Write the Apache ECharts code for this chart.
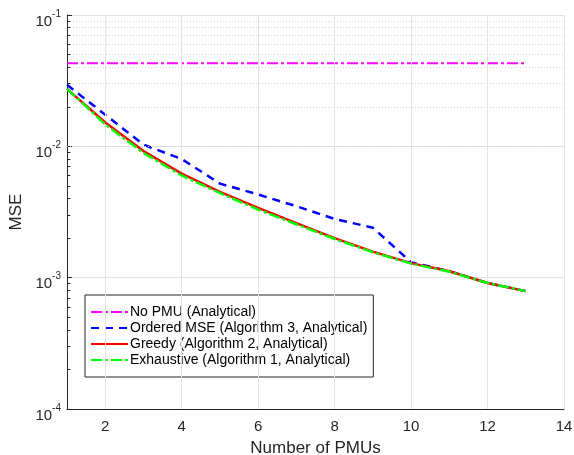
<!DOCTYPE html>
<html><head><meta charset="utf-8">
<script src="https://cdn.jsdelivr.net/npm/echarts@6/dist/echarts.min.js"></script>
<style>html,body{margin:0;padding:0;background:#fff}#c{width:574px;height:455px}</style>
</head><body><div id="c"></div>
<script>
const xValues = [1,2,3,4,5,6,7,8,9,10,11,12,13];
const noPmu     = [0.043,0.043,0.043,0.043,0.043,0.043,0.043,0.043,0.043,0.043,0.043,0.043,0.043];
const orderedMse = [0.0294,0.0174,0.0103,0.0080,0.0052,0.0043,0.0035,0.0028,0.0024,0.00131,0.00112,0.00091,0.00079];
const greedy     = [0.0274,0.0152,0.0092,0.0062,0.0045,0.0034,0.0026,0.0020,0.00158,0.00129,0.00112,0.00091,0.00079];
const exhaustive = [0.0274,0.0147,0.0089,0.0060,0.0044,0.0033,0.00255,0.00197,0.00156,0.00128,0.00111,0.00091,0.00079];
const seriesNames = ['No PMU (Analytical)','Ordered MSE (Algorithm 3, Analytical)','Greedy (Algorithm 2, Analytical)','Exhaustive (Algorithm 1, Analytical)'];
const xTicks = [2,4,6,8,10,12,14];
const yMinor = [2e-4,3e-4,4e-4,5e-4,6e-4,7e-4,8e-4,9e-4,2e-3,3e-3,4e-3,5e-3,6e-3,7e-3,8e-3,9e-3,2e-2,3e-2,4e-2,5e-2,6e-2,7e-2,8e-2,9e-2];

const pair = arr => xValues.map((x,i)=>[x,arr[i]]);
const axisColor = '#262626';
const font = 'Liberation Sans, Arial, sans-serif';

const chart = echarts.init(document.getElementById('c'), null, {renderer:'canvas'});
chart.setOption({
  animation:false,
  backgroundColor:'#fff',
  grid:{left:67,right:10,top:15,bottom:46,containLabel:false,outerBoundsMode:'none'},
  legend:{
    orient:'vertical', left:85, top:295,
    data:seriesNames,
    backgroundColor:'#fff', borderColor:axisColor, borderWidth:1,
    padding:[10,6,10,5], itemGap:2, itemWidth:37, itemHeight:14,
    itemStyle:{color:'rgba(0,0,0,0)',borderWidth:0,opacity:0},
    textStyle:{fontFamily:font,fontSize:14,color:'#000',padding:[0,0,0,-3]},
    selectedMode:false
  },
  xAxis:{
    type:'value', min:1, max:14,
    name:'Number of PMUs', nameLocation:'middle', nameGap:31,
    nameTextStyle:{fontFamily:font,fontSize:17,color:axisColor},
    axisLine:{show:true,onZero:false,lineStyle:{color:axisColor,width:1}},
    axisTick:{show:true,inside:true,length:5,customValues:xTicks,lineStyle:{color:axisColor}},
    axisLabel:{customValues:xTicks,fontFamily:font,fontSize:15,color:axisColor,margin:10},
    splitLine:{show:false}
  },
  yAxis:{
    type:'log', logBase:10, min:1e-4, max:1e-1,
    name:'MSE', nameLocation:'middle', nameGap:39,
    nameTextStyle:{fontFamily:font,fontSize:17,color:axisColor},
    axisLine:{show:true,lineStyle:{color:axisColor,width:1}},
    axisTick:{show:true,inside:true,length:5,lineStyle:{color:axisColor}},
    minorTick:{show:false},
    axisLabel:{
      fontFamily:font,color:axisColor,margin:6,padding:[8,0,0,0],
      formatter:v=>'{b|10}{s|'+Math.round(Math.log10(v))+'}',
      rich:{b:{fontFamily:font,fontSize:15,color:axisColor,verticalAlign:'bottom',lineHeight:20},
            s:{fontFamily:font,fontSize:10,color:axisColor,verticalAlign:'top',lineHeight:11}}
    },
    splitLine:{show:true,lineStyle:{color:'#e3e3e3',width:1}}
  },
  series:[
    {type:'line',name:'_grid',z:1,silent:true,symbol:'none',data:[[1,1e-4]],lineStyle:{opacity:0},
     markLine:{silent:true,symbol:'none',label:{show:false},animation:false,
       data:[
         ...yMinor.map(v=>({yAxis:v,lineStyle:{color:'#d2d2d2',width:1,type:[1,2]}})),
         ...xTicks.map(v=>({xAxis:v,lineStyle:{color:'#e3e3e3',width:1,type:'solid'}})),
         ...yMinor.map(v=>[{coord:[1,v],lineStyle:{color:axisColor,width:1,type:'solid'}},{coord:[1.09,v]}])
       ]}},
    {type:'line',name:seriesNames[0],z:3,symbol:'none',data:pair(noPmu),
     lineStyle:{color:'#ff00ff',width:2,type:[11,3,3,3]},itemStyle:{color:'#ff00ff'}},
    {type:'line',name:seriesNames[1],z:4,symbol:'none',data:pair(orderedMse),
     lineStyle:{color:'#0000ff',width:2.5,type:[8,6]},itemStyle:{color:'#0000ff'}},
    {type:'line',name:seriesNames[2],z:5,symbol:'none',data:pair(greedy),
     lineStyle:{color:'#ff0000',width:2.5,type:'solid'},itemStyle:{color:'#ff0000'}},
    {type:'line',name:seriesNames[3],z:6,symbol:'none',data:pair(exhaustive),
     lineStyle:{color:'#00ff00',width:2.5,type:[11,3,3,3]},itemStyle:{color:'#00ff00'}}
  ]
});
</script></body></html>
